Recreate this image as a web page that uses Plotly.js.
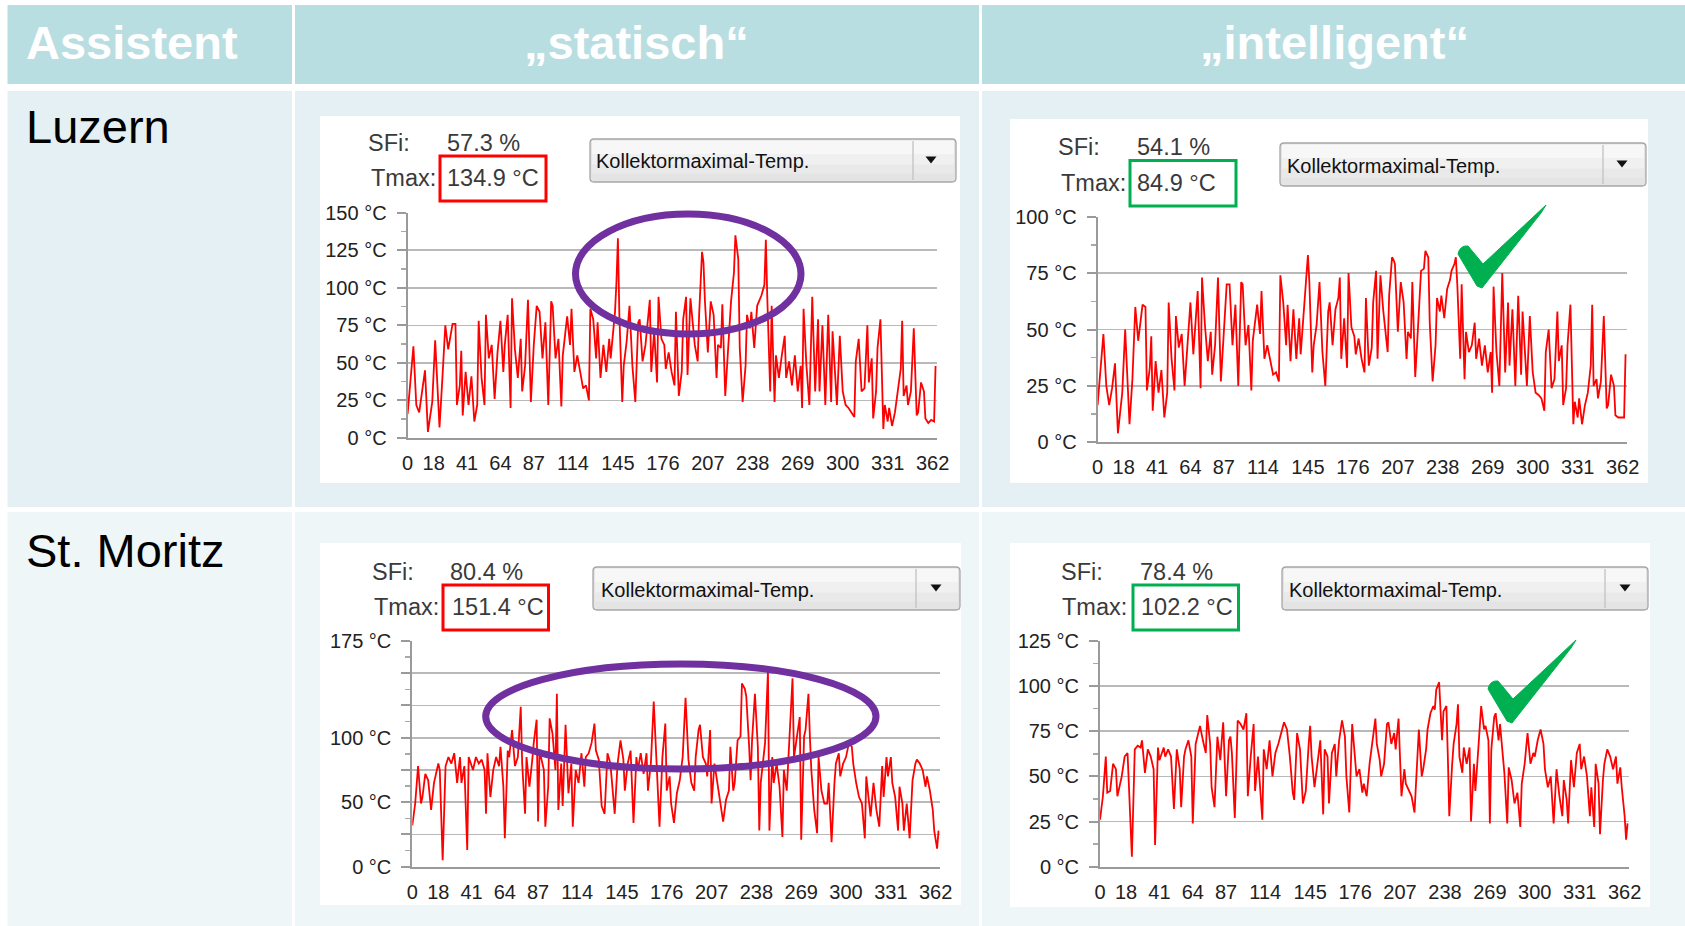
<!DOCTYPE html>
<html>
<head>
<meta charset="utf-8">
<script src="https://cdn.plot.ly/plotly-3.0.1.min.js"></script>
<style>html,body{margin:0;padding:0;background:#fff;}#chart{width:1685px;height:926px;}</style>
</head>
<body>
<div id="chart"></div>
<script>
// ---------- DATA ----------
const headerLabels = ["Assistent", "„statisch“", "„intelligent“"];
const locationLabels = ["Luzern", "St. Moritz"];
const tickDays = [0, 18, 41, 64, 87, 114, 145, 176, 207, 238, 269, 300, 331, 362];
const dropdownLabel = "Kollektormaximal-Temp.";
const sfiValues = ["57.3 %", "54.1 %", "80.4 %", "78.4 %"];
const tmaxValues = ["134.9 °C", "84.9 °C", "151.4 °C", "102.2 °C"];

const luzernDays = [0,4,6,8,10,12,14,17,19,22,24,26,28,31,33,34,36,37,38,40,42,44,46,48,49,51,53,54,56,58,60,62,64,66,67,69,71,72,74,76,78,79,81,83,85,87,89,91,93,95,97,99,100,102,104,106,107,110,112,113,115,117,119,121,123,125,126,128,130,131,133,135,137,139,140,142,143,144,145,146,148,149,151,153,155,157,159,160,162,164,166,167,168,170,172,173,175,177,178,180,182,184,185,187,189,190,192,193,195,197,198,200,201,203,204,205,207,209,211,213,214,216,217,219,221,223,225,226,228,229,231,233,234,236,237,239,241,243,244,246,247,248,250,251,253,254,256,258,260,261,263,265,267,269,271,272,273,275,277,279,281,283,284,286,288,290,292,293,295,296,298,300,302,304,306,308,309,311,313,315,317,318,320,321,323,324,326,328,329,331,332,334,336,338,340,341,342,344,345,347,349,351,352,354,356,357,359,361,363,364];
const luzernStatisch = [16,61,22,17,31,45,4,24,65,7,40,75,59,76,76,22,35,58,15,44,22,41,11,22,78,40,22,82,53,62,26,57,78,44,62,82,20,93,59,40,66,31,48,92,24,62,88,84,53,77,22,91,88,53,66,21,55,81,62,86,44,55,44,33,35,25,86,79,53,77,40,62,44,66,53,77,84,104,133,82,24,48,64,88,48,24,77,79,51,62,86,92,44,71,37,94,66,62,46,57,44,35,84,28,44,79,94,42,93,75,62,51,82,124,117,91,57,91,82,40,62,60,89,28,60,91,110,134.9,119,60,24,48,82,73,84,60,88,93,95,102,132,93,31,88,24,55,40,55,68,40,51,35,55,31,48,20,86,48,22,94,31,79,31,75,22,82,24,71,37,22,68,31,22,20,17,14,51,66,31,33,75,37,53,13,31,60,79,6,22,11,20,8,17,31,46,78,28,35,22,31,73,15,17,37,31,13,10,12,11,48];
const luzernIntelligent = [16.5,48,25,16.5,24,35,4,22,50,8,28,60,45,61,60,23,33,47,14,36,22,32,11,22,62,37,23,56,42,48,25,43,62,39,49,67,24,73,52,36,49,30,43,73,27,50,70,70,43,61,25,71,70,43,52,23,45,61,48,67,37,43,36,30,31,27,74,62,43,61,36,59,37,55,39,58,68,76,83,71,31,43,52,71,40,25,58,62,43,59,64,73,37,55,33,75,51,47,39,46,37,31,64,34,42,62,76,37,74,58,52,40,65,82,81,79,49,71,62,37,49,46,71,29,52,76,77,84.9,82,53,27,43,64,58,65,55,68,72,76,79,82,70,37,70,28,49,40,43,53,37,46,34,43,31,40,22,69,40,25,75,31,62,34,59,25,65,30,58,36,25,56,31,22,21,19.5,14,40,50,24,28,58,36,43,16.5,24,43,61,8,18,11,19.5,8,16.5,22,34,61,25,28,19.5,27,56,15,16.5,30,25,12,11,11,11,39];

const moritzStatischDays = [0,2,4,6,7,9,11,13,15,18,19,21,23,25,27,29,31,33,34,36,38,39,42,44,46,48,50,51,52,54,56,58,60,61,63,64,66,67,69,71,73,75,76,78,79,81,83,84,86,87,88,90,91,92,94,95,97,99,100,101,103,104,106,108,110,111,113,115,117,119,120,122,124,126,127,129,131,133,135,137,138,140,142,144,146,147,149,151,153,155,156,158,160,162,163,165,167,169,170,171,173,175,176,178,179,181,183,185,187,188,189,191,193,195,196,198,199,201,203,204,206,207,209,211,212,214,215,217,219,220,222,223,225,227,228,230,231,233,234,235,237,239,240,241,243,244,246,247,249,250,252,254,256,257,259,261,263,264,266,268,269,271,272,274,275,276,278,280,281,283,285,287,288,290,292,293,295,296,298,300,302,304,305,307,309,311,313,314,316,317,319,321,323,325,326,328,329,331,332,334,336,337,339,340,342,344,346,348,349,351,353,355,356,358,360,361,363,364];
const moritzStatisch = [32,49,78,49,54,72,67,44,65,80,75,5,78,85,80,88,65,85,65,78,13,85,75,85,80,83,75,41,88,54,75,85,78,93,62,22,90,85,106,78,85,124,80,41,85,62,83,96,114,35,90,80,75,31,62,115,103,75,134,44,80,47,110,57,80,31,75,65,88,62,85,88,96,111,90,83,47,41,88,80,65,41,80,98,83,59,80,90,34,85,75,88,72,88,59,80,128,80,59,31,85,111,59,70,49,34,57,67,85,106,131,83,65,59,85,106,110,85,80,70,106,49,80,65,57,44,35,52,59,93,59,65,98,101,142,138,132,93,67,98,134,93,28,65,85,96,151.4,28,85,65,80,62,23,75,59,106,146,85,101,116,21,101,106,134,101,75,44,26,85,59,49,49,65,19,65,80,88,70,80,85,96,93,80,65,54,49,22,70,49,39,65,44,31,78,54,85,70,85,65,54,28,62,49,28,49,22,67,80,83,80,75,62,70,59,44,28,14,28];

const moritzIntelligentDays = [0,2,4,5,7,9,11,12,15,17,19,22,24,26,28,29,31,33,35,37,38,40,41,44,45,47,49,51,53,55,56,58,59,61,63,64,66,68,69,71,73,74,76,77,79,81,83,84,85,87,89,90,91,93,94,95,97,99,101,102,104,106,107,109,112,113,115,117,119,121,123,125,127,129,131,133,134,136,138,140,142,144,145,146,148,150,152,154,155,157,158,160,162,163,165,167,169,170,172,174,175,177,179,181,182,184,186,188,190,191,193,194,196,198,199,201,203,204,206,208,210,211,213,215,217,218,220,222,223,225,226,228,230,231,232,234,235,236,237,239,240,241,243,244,246,247,248,250,251,253,255,256,258,259,261,263,265,266,268,269,270,272,273,275,276,278,279,281,282,284,286,288,290,291,293,295,297,299,300,302,304,306,307,309,311,313,315,317,319,320,322,323,325,327,329,331,332,334,336,338,339,341,342,344,345,347,348,350,352,354,356,357,359,360,361,362,363,364];
const moritzIntelligent = [26,39,61,41,42,57,54,39,50,61,63,5.5,65,67,66,70,52,65,61,54,12,66,59,66,61,65,61,32,65,54,33,61,65,70,61,24,68,76,78,70,63,84,68,44,33,72,59,70,80,39,70,72,63,27,57,81,79,76,85,39,61,79,42,61,26,65,54,70,50,63,68,74,80,76,61,41,37,74,65,35,42,68,78,61,44,57,70,29,65,61,35,63,68,50,70,81,72,50,30,79,68,50,54,41,46,39,57,70,82,68,59,50,57,79,80,68,74,65,82,39,54,46,42,39,30,46,76,50,54,65,76,85,89,87,98,102.2,87,70,86,89,61,28,57,68,79,90,61,52,66,57,66,25,57,42,65,89,76,78,70,24,65,83,85,70,79,63,52,24,55,48,35,41,22,46,57,74,57,63,61,70,76,68,54,44,50,24,54,39,28,48,37,24,59,44,63,68,54,61,50,28,44,22,57,46,18,48,57,65,61,54,61,46,55,44,37,28,15,24];

// ---------- LAYOUT HELPERS ----------
const W = 1685, H = 926;
const FONT = "Liberation Sans, Arial, Helvetica, sans-serif";
const X = p => p / W;
const Y = p => 1 - p / H;

const shapes = [];
const annotations = [];

function rect(x0, y0, x1, y1, fill, layer) {
  shapes.push({type: 'rect', xref: 'paper', yref: 'paper', x0: X(x0), x1: X(x1), y0: Y(y1), y1: Y(y0),
    fillcolor: fill, line: {width: 0}, layer: layer || 'below'});
}
function box(x0, y0, x1, y1, color, w) {
  shapes.push({type: 'rect', xref: 'paper', yref: 'paper', x0: X(x0), x1: X(x1), y0: Y(y1), y1: Y(y0),
    fillcolor: 'rgba(0,0,0,0)', line: {color: color, width: w}, layer: 'above'});
}
function ellipse(x0, y0, x1, y1, color, w) {
  shapes.push({type: 'circle', xref: 'paper', yref: 'paper', x0: X(x0), x1: X(x1), y0: Y(y1), y1: Y(y0),
    fillcolor: 'rgba(0,0,0,0)', line: {color: color, width: w}, layer: 'above'});
}
function pathOf(pts) {
  return pts.map((p, i) => (p[0] === 'Q' ? 'Q' + X(p[1]) + ',' + Y(p[2]) + ' ' + X(p[3]) + ',' + Y(p[4])
    : (i === 0 ? 'M' : 'L') + X(p[0]) + ',' + Y(p[1]))).join(' ') + ' Z';
}
function roundRectPath(x0, y0, x1, y1, r) {
  return pathOf([[x0 + r, y0], [x1 - r, y0], ['Q', x1, y0, x1, y0 + r], [x1, y1 - r], ['Q', x1, y1, x1 - r, y1],
    [x0 + r, y1], ['Q', x0, y1, x0, y1 - r], [x0, y0 + r], ['Q', x0, y0, x0 + r, y0]]);
}
function text(str, x, y, size, color, opts) {
  opts = opts || {};
  annotations.push({text: str, xref: 'paper', yref: 'paper', x: X(x), y: Y(y), showarrow: false,
    xanchor: opts.anchor || 'left', yanchor: 'middle',
    font: {family: FONT, size: size, color: color, weight: opts.weight || 400}});
}
function dropdown(x0, y0, x1, y1, xd, xa, ya, tx, ty) {
  const h = y1 - y0;
  shapes.push({type: 'path', xref: 'paper', yref: 'paper', path: roundRectPath(x0, y0, x1, y1, 4),
    fillcolor: '#e4e4e4', line: {width: 0}, layer: 'below'});
  rect(x0 + 2, y0 + 1.5, x1 - 2, y0 + h * 0.35, '#f7f7f7');
  rect(x0 + 2, y0 + h * 0.35, x1 - 2, y0 + h * 0.6, '#f0f0f0');
  rect(x0 + 2, y0 + h * 0.6, x1 - 2, y0 + h * 0.8, '#e9e9e9');
  shapes.push({type: 'path', xref: 'paper', yref: 'paper', path: roundRectPath(x0, y0, x1, y1, 4),
    fillcolor: 'rgba(0,0,0,0)', line: {color: '#a6a6a6', width: 1.3}, layer: 'below'});
  shapes.push({type: 'line', xref: 'paper', yref: 'paper', x0: X(xd), x1: X(xd), y0: Y(y1 - 2), y1: Y(y0 + 2),
    line: {color: '#c2c2c2', width: 1.3}, layer: 'below'});
  shapes.push({type: 'path', xref: 'paper', yref: 'paper',
    path: pathOf([[xa - 5.5, ya - 3.5], [xa + 5.5, ya - 3.5], [xa, ya + 3.5]]),
    fillcolor: '#111', line: {width: 0}, layer: 'below'});
  text(dropdownLabel, tx, ty, 20, '#111');
}
function check(dx, dy) {
  const pts = [[1458, 254], ['Q', 1460, 245, 1468, 246], [1483, 264], [1546, 205], [1541, 213], [1482, 288], [1477, 286]];
  const moved = pts.map(p => p[0] === 'Q' ? ['Q', p[1] + dx, p[2] + dy, p[3] + dx, p[4] + dy] : [p[0] + dx, p[1] + dy]);
  shapes.push({type: 'path', xref: 'paper', yref: 'paper', path: pathOf(moved),
    fillcolor: '#00b050', line: {color: '#00b050', width: 1}, layer: 'above'});
}

// ---------- TABLE ----------
const cols = [[7.5, 292], [295, 979], [982, 1685]];
cols.forEach(c => rect(c[0], 5, c[1], 84, '#b8dee2'));
cols.forEach(c => rect(c[0], 91, c[1], 507, '#e4f0f3'));
cols.forEach(c => rect(c[0], 512, c[1], 926, '#eff6f8'));
text(headerLabels[0], 24, 43, 47, '#ffffff', {weight: 700});
text(headerLabels[1], 636, 43, 47, '#ffffff', {weight: 700, anchor: 'center'});
text(headerLabels[2], 1334, 43, 47, '#ffffff', {weight: 700, anchor: 'center'});
text(locationLabels[0], 24, 127, 47, '#000000');
text(locationLabels[1], 24, 550, 47, '#000000');

const panels = [
  {bg: [320, 116, 960, 483], sfi: [366, 445, 143], tmax: [369, 445, 178],
   dd: [590, 139, 956, 182, 913, 931, 160, 594, 161], vb: [440, 156, 546, 201], vc: '#ff0000'},
  {bg: [1010, 119, 1648, 483], sfi: [1056, 1135, 147], tmax: [1059, 1135, 183],
   dd: [1280, 143, 1646, 186, 1603, 1622, 164, 1285, 166], vb: [1130, 160.5, 1236, 206], vc: '#00b050'},
  {bg: [320, 543, 961, 905], sfi: [370, 448, 572], tmax: [372, 450, 607],
   dd: [593, 567, 960, 610, 916, 936, 588, 599, 590], vb: [443, 585, 548.5, 630], vc: '#ff0000'},
  {bg: [1010, 543, 1650, 907], sfi: [1059, 1138, 572], tmax: [1060, 1139, 607],
   dd: [1282, 567, 1648, 610, 1605, 1625, 588, 1287, 590], vb: [1133, 585, 1238.5, 630], vc: '#00b050'}
];
panels.forEach((p, i) => {
  rect(p.bg[0], p.bg[1], p.bg[2], p.bg[3], '#ffffff');
  text('SFi:', p.sfi[0], p.sfi[2], 23.5, '#3a3a3a');
  text(sfiValues[i], p.sfi[1], p.sfi[2], 23.5, '#3a3a3a');
  text('Tmax:', p.tmax[0], p.tmax[2], 23.5, '#3a3a3a');
  text(tmaxValues[i], p.tmax[1], p.tmax[2], 23.5, '#3a3a3a');
  dropdown.apply(null, p.dd);
  box(p.vb[0], p.vb[1], p.vb[2], p.vb[3], p.vc, 3);
});
ellipse(575.5, 214, 801, 334, '#7030a0', 7);
ellipse(485.7, 664, 876, 769, '#7030a0', 7);
check(0, 0);
check(30, 435);

// ---------- AXES ----------
function xAxis(x0, x1, anchor) {
  return {domain: [X(x0), X(x1)], range: [0, 365], anchor: anchor, showgrid: false, zeroline: false,
    showline: true, linecolor: '#9a9a9a', linewidth: 2, ticks: '', tickmode: 'array',
    tickvals: tickDays, ticktext: tickDays.map(String), ticklabelstandoff: 6,
    tickfont: {family: FONT, size: 20, color: '#222'}, fixedrange: true};
}
function yAxis(y0, y1, max, anchor, labels) {
  const vals = [];
  for (let v = 0; v <= max; v += 25) vals.push(v);
  return {domain: [Y(y0), Y(y1)], range: [0, max], anchor: anchor, zeroline: false,
    showgrid: true, gridcolor: '#b9b9b9', gridwidth: 1.6,
    showline: true, linecolor: '#9a9a9a', linewidth: 2,
    ticks: 'outside', ticklen: 9, tickwidth: 2, tickcolor: '#9a9a9a',
    tickmode: 'array', tickvals: vals,
    ticktext: vals.map(v => (labels && labels.indexOf(v) < 0) ? '' : v + ' °C'),
    ticklabelstandoff: 6,
    minor: {dtick: 12.5, tick0: 0, ticks: 'outside', ticklen: 5, tickwidth: 1.5, tickcolor: '#a8a8a8', showgrid: false},
    tickfont: {family: FONT, size: 20, color: '#222'}, fixedrange: true};
}

const lineStyle = {color: '#ff0000', width: 1.8};
const data = [
  {x: luzernDays, y: luzernStatisch, xaxis: 'x', yaxis: 'y', type: 'scatter', mode: 'lines', line: lineStyle, hoverinfo: 'skip'},
  {x: luzernDays, y: luzernIntelligent, xaxis: 'x2', yaxis: 'y2', type: 'scatter', mode: 'lines', line: lineStyle, hoverinfo: 'skip'},
  {x: moritzStatischDays, y: moritzStatisch, xaxis: 'x3', yaxis: 'y3', type: 'scatter', mode: 'lines', line: lineStyle, hoverinfo: 'skip'},
  {x: moritzIntelligentDays, y: moritzIntelligent, xaxis: 'x4', yaxis: 'y4', type: 'scatter', mode: 'lines', line: lineStyle, hoverinfo: 'skip'}
];

const layout = {
  width: W, height: H, autosize: false,
  margin: {l: 0, r: 0, t: 0, b: 0, pad: 0},
  paper_bgcolor: '#ffffff', plot_bgcolor: 'rgba(0,0,0,0)',
  showlegend: false, hovermode: false,
  xaxis: xAxis(407.6, 937, 'y'),
  yaxis: yAxis(438, 212.7, 150, 'x'),
  xaxis2: xAxis(1097.6, 1627, 'y2'),
  yaxis2: yAxis(442.3, 216.7, 100, 'x2'),
  xaxis3: xAxis(412.3, 940, 'y3'),
  yaxis3: yAxis(866.7, 641, 175, 'x3', [0, 50, 100, 175]),
  xaxis4: xAxis(1100, 1629, 'y4'),
  yaxis4: yAxis(866.7, 641, 125, 'x4'),
  shapes: shapes,
  annotations: annotations
};

Plotly.newPlot('chart', data, layout, {staticPlot: true, displayModeBar: false});
</script>
</body>
</html>
